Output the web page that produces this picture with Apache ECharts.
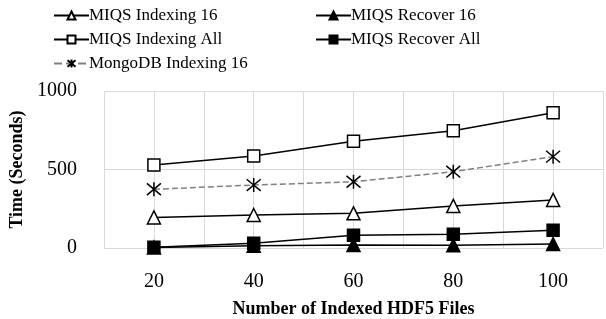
<!DOCTYPE html>
<html>
<head>
<meta charset="utf-8">
<script src="https://cdn.jsdelivr.net/npm/echarts@6/dist/echarts.min.js"></script>
<style>
  html, body { margin: 0; padding: 0; background: #fff; }
  #chart { width: 606px; height: 319px; }
</style>
</head>
<body>
<div id="chart"></div>
<script>
// Number of indexed HDF5 files
const fileCounts = [20, 40, 60, 80, 100]

// Time in seconds
const miqsIndexing16 = [195, 210, 221, 268, 306]
const miqsRecover16 = [3, 14, 19, 17, 25]
const miqsIndexingAll = [529, 586, 680, 747, 862]
const miqsRecoverAll = [5, 30, 81, 87, 113]
const mongoIndexing16 = [374, 401, 422, 486, 582]

const yTicks = [0, 500, 1000]

const fontFamily = '"Liberation Serif", "DejaVu Serif", serif'
const asterisk = 'path://M0,0L10,10M10,0L0,10M5,-1L5,11'

function pairs(values) {
  return values.map((v, i) => [fileCounts[i], v])
}

function lineSeries(name, values, symbol, fill, size, dashed) {
  return {
    name: name,
    type: 'line',
    data: pairs(values),
    symbol: symbol,
    symbolSize: size,
    showSymbol: true,
    lineStyle: {
      color: dashed ? '#808080' : '#000',
      width: 1.5,
      type: dashed ? 'dashed' : 'solid',
    },
    itemStyle: {
      color: fill,
      borderColor: '#000',
      borderWidth: 1.5,
    },
    emphasis: { disabled: true },
    z: dashed ? 2 : 3,
  }
}

const legendText = {
  fontFamily: fontFamily,
  fontSize: 17,
  color: '#000',
  padding: [0, 0, 0, -5],
}

const legendBase = {
  top: 2,
  orient: 'vertical',
  itemWidth: 35,
  itemHeight: 10,
  itemGap: 7,
  textStyle: legendText,
}

const chart = echarts.init(document.getElementById('chart'))
chart.setOption({
  animation: false,
  legend: [
    Object.assign({}, legendBase, {
      left: 48,
      data: ['MIQS Indexing 16', 'MIQS Indexing All', 'MongoDB Indexing 16'],
    }),
    Object.assign({}, legendBase, {
      left: 310,
      data: ['MIQS Recover 16', 'MIQS Recover All'],
    }),
  ],
  grid: {
    left: 104,
    right: 1,
    top: 91,
    bottom: 71,
  },
  xAxis: {
    type: 'value',
    min: 10,
    max: 110,
    interval: 10,
    name: 'Number of Indexed HDF5 Files',
    nameLocation: 'middle',
    nameGap: 52,
    nameTextStyle: {
      fontFamily: fontFamily,
      fontSize: 18,
      fontWeight: 'bold',
      color: '#000',
    },
    axisLine: { show: false },
    axisTick: { show: false },
    axisLabel: {
      margin: 24,
      fontFamily: fontFamily,
      fontSize: 20,
      color: '#000',
      formatter: (v) => (fileCounts.includes(v) ? String(v) : ''),
    },
    splitLine: {
      show: true,
      lineStyle: { color: '#d9d9d9', width: 1 },
    },
  },
  yAxis: {
    type: 'value',
    min: yTicks[0],
    max: yTicks[yTicks.length - 1],
    interval: 500,
    name: 'Time (Seconds)',
    nameLocation: 'middle',
    nameGap: 75,
    nameTextStyle: {
      fontFamily: fontFamily,
      fontSize: 18,
      fontWeight: 'bold',
      color: '#000',
    },
    axisLine: { show: false },
    axisTick: { show: false },
    axisLabel: {
      margin: 27,
      fontFamily: fontFamily,
      fontSize: 20,
      color: '#000',
      formatter: (v) => String(v),
    },
    splitLine: {
      show: true,
      lineStyle: { color: '#d9d9d9', width: 1 },
    },
  },
  series: [
    lineSeries('MIQS Indexing 16', miqsIndexing16, 'triangle', '#fff', 13, false),
    lineSeries('MIQS Recover 16', miqsRecover16, 'triangle', '#000', 13, false),
    lineSeries('MIQS Indexing All', miqsIndexingAll, 'rect', '#fff', 12, false),
    lineSeries('MIQS Recover All', miqsRecoverAll, 'rect', '#000', 12, false),
    lineSeries('MongoDB Indexing 16', mongoIndexing16, asterisk, 'none', 14, true),
  ],
})
</script>
</body>
</html>
